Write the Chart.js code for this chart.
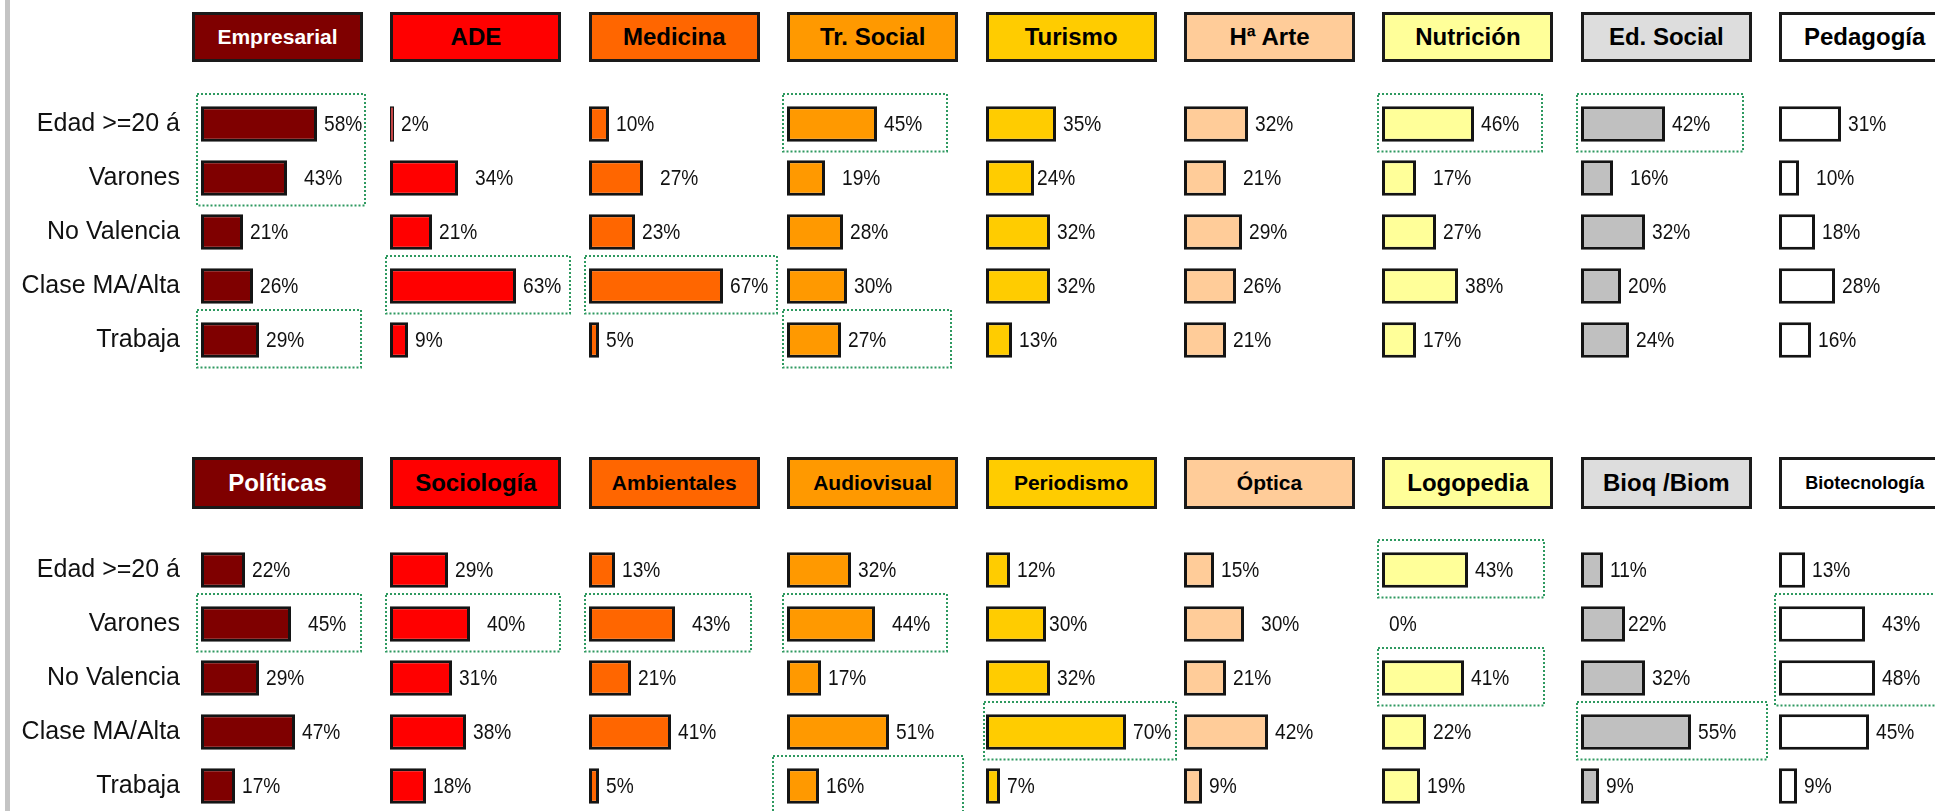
<!DOCTYPE html>
<html lang="es">
<head>
<meta charset="utf-8">
<title>Perfil del alumnado por titulación</title>
<script src="https://cdn.jsdelivr.net/npm/chart.js@4.4.1/dist/chart.umd.min.js"></script>
<style>
  html, body { margin: 0; padding: 0; background: #fff; }
  body { width: 1935px; height: 811px; position: relative; overflow: hidden; font-family: "Liberation Sans", Arial, sans-serif; }
  .edge { position: absolute; left: 5px; top: 0; width: 5px; height: 811px; background: #c4c4c4; }
  .head { position: absolute; box-sizing: border-box; border: 3px solid #1a1a1a; display: flex; align-items: center; justify-content: center; font-weight: bold; white-space: nowrap; }
  canvas { position: absolute; }
</style>
</head>
<body>
<div class="edge"></div>
<script>
// categorías comunes a todos los paneles
const categories = ['Edad >=20 á', 'Varones', 'No Valencia', 'Clase MA/Alta', 'Trabaja'];

// fila superior
const topTitles = ['Empresarial', 'ADE', 'Medicina', 'Tr. Social', 'Turismo', 'Hª Arte', 'Nutrición', 'Ed. Social', 'Pedagogía'];
const empresarial = [58, 43, 21, 26, 29];
const ade = [2, 34, 21, 63, 9];
const medicina = [10, 27, 23, 67, 5];
const trSocial = [45, 19, 28, 30, 27];
const turismo = [35, 24, 32, 32, 13];
const hArte = [32, 21, 29, 26, 21];
const nutricion = [46, 17, 27, 38, 17];
const edSocial = [42, 16, 32, 20, 24];
const pedagogia = [31, 10, 18, 28, 16];

// fila inferior
const bottomTitles = ['Políticas', 'Sociología', 'Ambientales', 'Audiovisual', 'Periodismo', 'Óptica', 'Logopedia', 'Bioq /Biom', 'Biotecnología'];
const politicas = [22, 45, 29, 47, 17];
const sociologia = [29, 40, 31, 38, 18];
const ambientales = [13, 43, 21, 41, 5];
const audiovisual = [32, 44, 17, 51, 16];
const periodismo = [12, 30, 32, 70, 7];
const optica = [15, 30, 21, 42, 9];
const logopedia = [43, 0, 41, 22, 19];
const bioqBiom = [11, 22, 32, 55, 9];
const biotecnologia = [13, 43, 48, 45, 9];

const topValues = [empresarial, ade, medicina, trSocial, turismo, hArte, nutricion, edSocial, pedagogia];
const bottomValues = [politicas, sociologia, ambientales, audiovisual, periodismo, optica, logopedia, bioqBiom, biotecnologia];

// recuadros punteados: [fila desde, fila hasta, % derecha, % izquierda]
const highlights = {
    'Empresarial': [[0, 1, 82], [4, 4, 80]],
    'ADE': [[3, 3, 90]],
    'Medicina': [[3, 3, 94]],
    'Tr. Social': [[0, 0, 80], [4, 4, 82]],
    'Nutrición': [[0, 0, 80]],
    'Ed. Social': [[0, 0, 81]],
    'Políticas': [[1, 1, 80]],
    'Sociología': [[1, 1, 85]],
    'Ambientales': [[1, 1, 81]],
    'Audiovisual': [[1, 1, 80], [4, 4, 88, -7]],
    'Periodismo': [[3, 3, 95, -1]],
    'Logopedia': [[0, 0, 81], [2, 2, 81]],
    'Bioq /Biom': [[3, 3, 93]],
    'Biotecnología': [[1, 2, 90]]
};

// estilos
const barColors = ['#7F0000', '#FF0000', '#FF6600', '#FF9900', '#FFCC00', '#FFCC99', '#FFFF99', '#C0C0C0', '#FFFFFF'];
const headFills = ['#7F0000', '#FF0000', '#FF6600', '#FF9900', '#FFCC00', '#FFCC99', '#FFFF99', '#DDDDDD', '#FFFFFF'];
const topFontSizes = [21, 24, 24, 24, 24, 24, 24, 24, 24];
const bottomFontSizes = [24, 24, 21, 21, 21, 21, 24, 24, 18];
const tightLabels = ['Turismo', 'Periodismo', 'Bioq /Biom'];

const FONT = '"Liberation Sans", Arial, sans-serif';
const HEAD_LEFT = 192, HEAD_STEP = 198.4, HEAD_W = 171;
const HEAD_TOP = [12, 457], HEAD_H = [50, 52];
const AREA_TOP = [97.4, 543], BAND = 54, PAD = 8;

document.addEventListener('DOMContentLoaded', function () {
    topTitles.forEach((t, c) => renderPanel(t, topValues[c], 0, c, topFontSizes[c]));
    bottomTitles.forEach((t, c) => renderPanel(t, bottomValues[c], 1, c, bottomFontSizes[c]));
});

/**
 * Dibuja la cabecera y el gráfico de barras de una titulación.
 */
function renderPanel(title, values, row, col, fontSize) {
    const boxLeft = HEAD_LEFT + col * HEAD_STEP;

    const head = document.createElement('div');
    head.className = 'head';
    head.textContent = title;
    head.style.left = boxLeft + 'px';
    head.style.top = HEAD_TOP[row] + 'px';
    head.style.width = HEAD_W + 'px';
    head.style.height = HEAD_H[row] + 'px';
    head.style.background = headFills[col];
    head.style.color = col === 0 ? '#fff' : '#000';
    head.style.fontSize = fontSize + 'px';
    document.body.appendChild(head);

    const barX = col === 0 ? 201 : Math.round(boxLeft);
    const canvasLeft = col === 0 ? 0 : barX - 16;
    const padLeft = col === 0 ? 0 : 16;
    const width = (barX - canvasLeft) + 190 + PAD;
    const height = BAND * 5 + PAD * 2;

    const canvas = document.createElement('canvas');
    canvas.width = width;
    canvas.height = height;
    canvas.style.width = width + 'px';
    canvas.style.height = height + 'px';
    canvas.style.left = canvasLeft + 'px';
    canvas.style.top = (AREA_TOP[row] - PAD) + 'px';
    document.body.appendChild(canvas);

    const yAxis = {
        display: col === 0,
        grid: { display: false, drawTicks: false },
        border: { display: false },
        ticks: { padding: 21, color: '#111', font: { size: 25, family: FONT } }
    };
    if (col === 0) {
        yAxis.afterFit = scale => {
            scale.width = barX;
            scale.paddingTop = 0;
            scale.paddingBottom = 0;
        };
    }

    new Chart(canvas.getContext('2d'), {
        type: 'bar',
        data: {
            labels: categories,
            datasets: [{
                data: values,
                backgroundColor: barColors[col],
                borderColor: '#141414',
                borderWidth: ctx => ctx.raw === 0 ? 0 : (ctx.raw < 4 ? 1.5 : 3),
                borderSkipped: false,
                barPercentage: 0.66,
                categoryPercentage: 1
            }]
        },
        options: {
            indexAxis: 'y',
            responsive: false,
            animation: false,
            layout: { padding: { left: padLeft, right: PAD, top: PAD, bottom: PAD } },
            plugins: { legend: { display: false }, tooltip: { enabled: false } },
            scales: {
                x: { display: false, min: 0, max: 95 },
                y: yAxis
            }
        },
        plugins: [valueLabels(title), highlightBoxes(highlights[title] || [])]
    });
}

/**
 * Etiquetas de porcentaje a la derecha de cada barra (letra algo estrecha).
 */
function valueLabels(title) {
    return {
        id: 'valueLabels',
        afterDatasetsDraw(chart) {
            const ctx = chart.ctx;
            const data = chart.data.datasets[0].data;
            chart.getDatasetMeta(0).data.forEach((bar, i) => {
                let gap = 7;
                if (data[i] !== 0 && i === 1) gap = tightLabels.includes(title) ? 3 : 17;
                ctx.save();
                ctx.translate(bar.x + gap, bar.y + 1);
                ctx.scale(0.87, 1);
                ctx.font = '22px ' + FONT;
                ctx.fillStyle = '#111';
                ctx.textBaseline = 'middle';
                ctx.fillText(data[i] + '%', 0, 0);
                ctx.restore();
            });
        }
    };
}

/**
 * Recuadros verdes punteados que destacan algunas barras.
 */
function highlightBoxes(boxes) {
    return {
        id: 'highlightBoxes',
        afterDraw(chart) {
            const ctx = chart.ctx;
            const x = chart.scales.x, y = chart.scales.y;
            const band = y.getPixelForValue(1) - y.getPixelForValue(0);
            ctx.save();
            ctx.strokeStyle = '#2E9960';
            ctx.lineWidth = 2;
            ctx.setLineDash([2, 2]);
            boxes.forEach(b => {
                const x0 = x.getPixelForValue(b[3] !== undefined ? b[3] : -2);
                const x1 = x.getPixelForValue(b[2]);
                const y0 = y.getPixelForValue(b[0]) - band / 2 - 3;
                const y1 = y.getPixelForValue(b[1]) + band / 2 + 0.5;
                ctx.strokeRect(x0, y0, x1 - x0, y1 - y0);
            });
            ctx.restore();
        }
    };
}
</script>
</body>
</html>
